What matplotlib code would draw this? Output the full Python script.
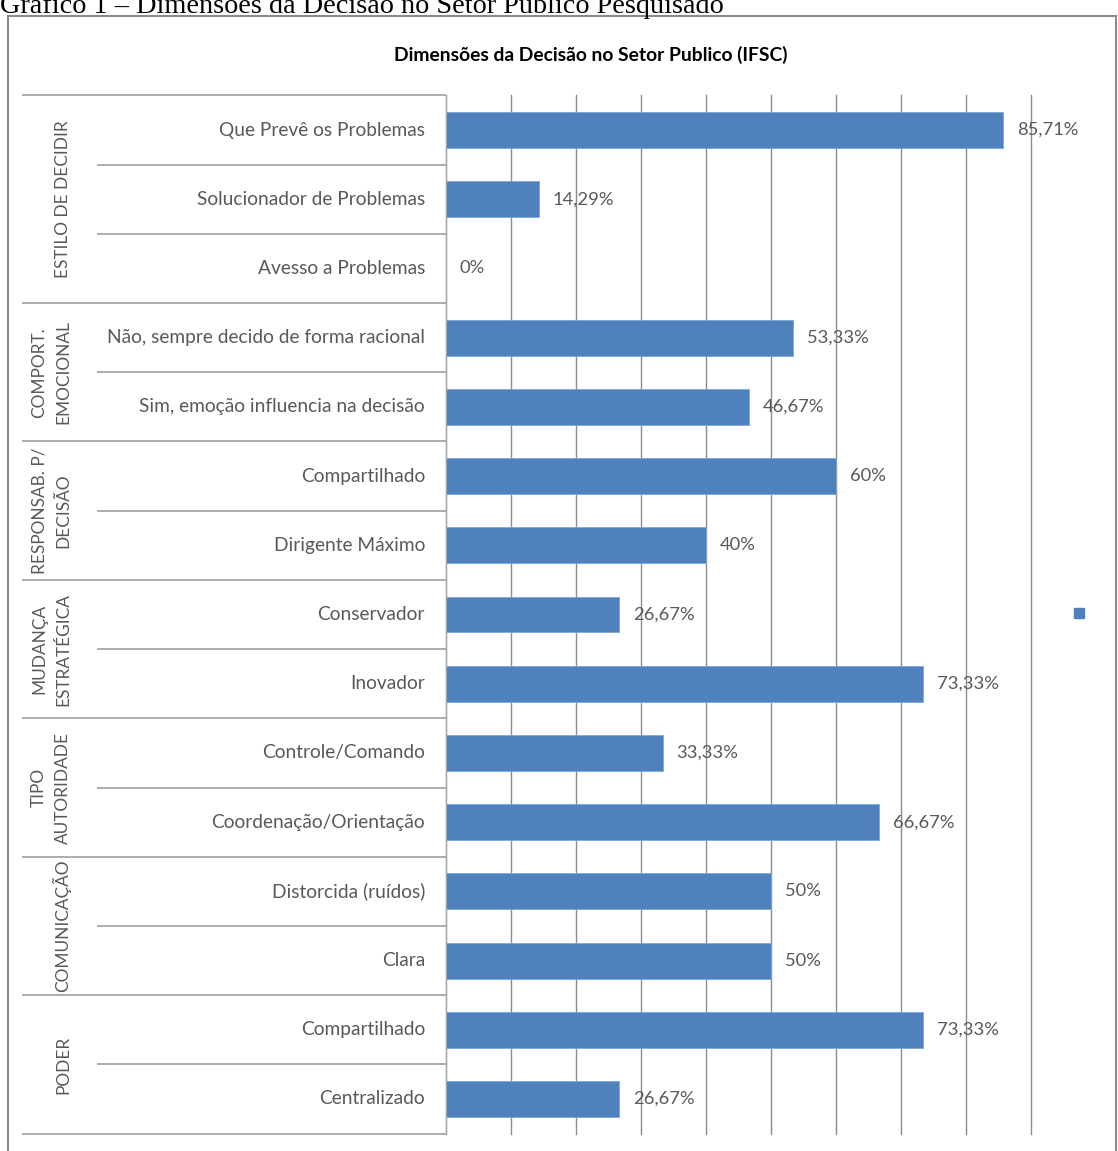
"""Horizontal bar chart: Dimensões da Decisão no Setor Publico (IFSC)."""
import matplotlib
matplotlib.use("Agg")
import matplotlib.pyplot as plt
from matplotlib.patches import Rectangle

# ---- data ----
groups = ["ESTILO DE DECIDIR", "COMPORT.\nEMOCIONAL", "RESPONSAB. P/\nDECISÃO",
          "MUDANÇA\nESTRATÉGICA", "TIPO\nAUTORIDADE", "COMUNICAÇÃO", "PODER"]
group_sizes = [3, 2, 2, 2, 2, 2, 2]
categories = ["Que Prevê os Problemas", "Solucionador de Problemas", "Avesso a Problemas",
              "Não, sempre decido de forma racional", "Sim, emoção influencia na decisão",
              "Compartilhado", "Dirigente Máximo",
              "Conservador", "Inovador",
              "Controle/Comando", "Coordenação/Orientação",
              "Distorcida (ruídos)", "Clara",
              "Compartilhado", "Centralizado"]
values = [85.71, 14.29, 0, 53.33, 46.67, 60, 40, 26.67, 73.33, 33.33, 66.67, 50, 50, 73.33, 26.67]
x_ticks = [0, 10, 20, 30, 40, 50, 60, 70, 80, 90]

BAR = "#4F81BD"
TXT = "#595959"
SEP = "#a6a6a6"
FONT = "Lato"

W, H = 1118, 1151
fig = plt.figure(figsize=(W / 100, H / 100), dpi=100)


def box(left, top, right, bottom):
    return [left / W, 1 - bottom / H, (right - left) / W, (bottom - top) / H]


# caption above the chart (cut at the top in the reference)
fig.text(0.0, 1 - 13 / H, "Gráfico 1 – Dimensões da Decisão no Setor Público Pesquisado",
         family="Liberation Serif", fontsize=20.3, va="baseline", ha="left", color="black")

# chart frame
fig.add_artist(Rectangle((8 / W, -0.01), (1116 - 8) / W, 1.01 - 16 / H,
                         transform=fig.transFigure, fill=False,
                         edgecolor="#8a8a8a", linewidth=1.5))

fig.text(591 / W, 1 - 55 / H, "Dimensões da Decisão no Setor Publico (IFSC)",
         family=FONT, fontsize=13.9, fontweight="bold", ha="center", va="center",
         color="black")

n = len(categories)
top_px, bot_px = 95.4, 1133.6

# ---- bars ----
ax = fig.add_axes(box(446, top_px, 1031, bot_px))
ypos = list(range(n))
ax.barh(ypos, values, height=0.52, color=BAR, edgecolor="#7ea6d6", linewidth=0.6, zorder=3)
ax.set_xlim(0, 90)
ax.set_ylim(n - 0.5, -0.5)
ax.set_xticks([])
ax.set_yticks([])
for t in x_ticks:
    ax.axvline(t, color="#8c8c8c", linewidth=1, clip_on=False, zorder=1)
for s in ("top", "right", "bottom"):
    ax.spines[s].set_visible(False)
ax.spines["left"].set_color(SEP)
ax.spines["left"].set_zorder(4)

for i, v in enumerate(values):
    lab = f"{int(v)}%" if float(v).is_integer() else f"{v:.2f}".replace(".", ",") + "%"
    ax.annotate(lab, xy=(v, i), xytext=(10, 0), textcoords="offset points",
                va="center", ha="left", fontsize=13.2, family=FONT, color=TXT, zorder=5)

# ---- multi-level category axis ----
axl = fig.add_axes(box(22, top_px, 446, bot_px))
axl.set_xlim(22, 446)
axl.set_ylim(n - 0.5, -0.5)
axl.axis("off")

for i, c in enumerate(categories):
    axl.text(425, i, c, ha="right", va="center", fontsize=13.8, family=FONT, color=TXT)

start = 0
axl.hlines(-0.5, 22, 446, color=SEP, linewidth=1.3, clip_on=False)
for g, size in zip(groups, group_sizes):
    end = start + size
    for k in range(start + 1, end):
        axl.hlines(k - 0.5, 97, 446, color=SEP, linewidth=1.3, clip_on=False)
    axl.hlines(end - 0.5, 22, 446, color=SEP, linewidth=1.3, clip_on=False)
    axl.text(71, (start + end - 1) / 2, g, rotation=90, ha="right", va="center",
             multialignment="center", fontsize=12.4, family=FONT, color=TXT,
             linespacing=1.6)
    start = end

# legend marker (series without a name)
fig.add_artist(Rectangle(((1079 - 5) / W, 1 - (613 + 5) / H), 10 / W, 10 / H,
                         transform=fig.transFigure, color=BAR))

fig.savefig("out.png", dpi=100)
